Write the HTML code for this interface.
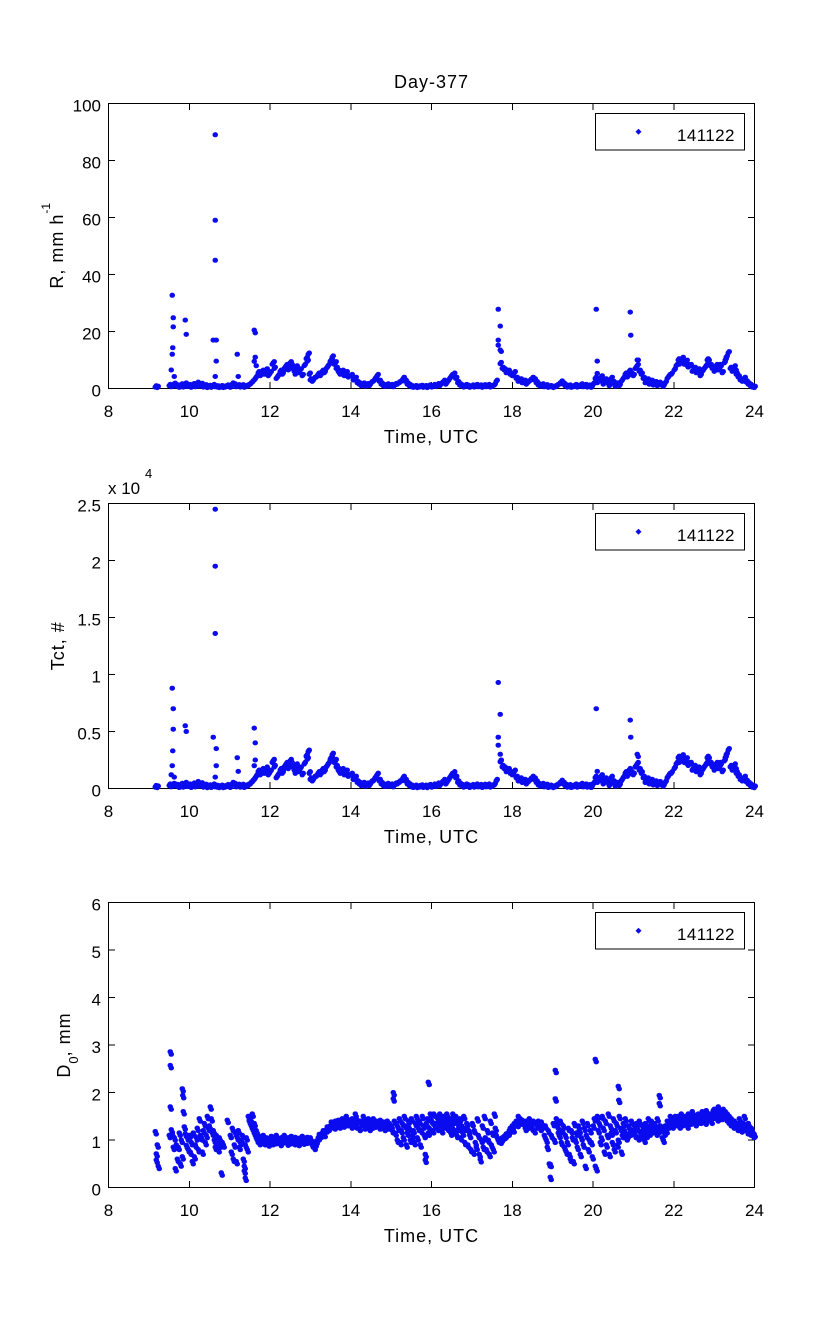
<!DOCTYPE html>
<html>
<head>
<meta charset="utf-8">
<style>
html,body{margin:0;padding:0;background:#fff;}
svg{display:block;}
text{font-family:"Liberation Sans",Arial,Helvetica,sans-serif;fill:#000;}
.tk{font-size:17px;}
.lb{font-size:18px;letter-spacing:1px;}
.pt{fill:none;stroke:#0b0bf0;stroke-width:5;stroke-linecap:round;stroke-linejoin:round;}
</style>
</head>
<body>
<svg width="833" height="1334" viewBox="0 0 833 1334" xmlns="http://www.w3.org/2000/svg">
<rect x="0" y="0" width="833" height="1334" fill="#fff"/>

<!-- frames with x ticks -->
<g id="frame" fill="none" stroke="#000" stroke-width="1" shape-rendering="crispEdges">
  <rect x="108.5" y="103.5" width="646" height="285"/>
  <path d="M189.25 388.5v-6.5M189.25 103.5v6.5M270 388.5v-6.5M270 103.5v6.5M350.75 388.5v-6.5M350.75 103.5v6.5M431.5 388.5v-6.5M431.5 103.5v6.5M512.25 388.5v-6.5M512.25 103.5v6.5M593 388.5v-6.5M593 103.5v6.5M673.75 388.5v-6.5M673.75 103.5v6.5"/>
</g>
<use href="#frame" x="0" y="400"/>
<use href="#frame" x="0" y="799"/>

<!-- y ticks -->
<g fill="none" stroke="#000" stroke-width="1" shape-rendering="crispEdges">
  <path d="M108.5 331.5h6.5M754.5 331.5h-6.5M108.5 274.5h6.5M754.5 274.5h-6.5M108.5 217.5h6.5M754.5 217.5h-6.5M108.5 160.5h6.5M754.5 160.5h-6.5"/>
  <path d="M108.5 731.5h6.5M754.5 731.5h-6.5M108.5 674.5h6.5M754.5 674.5h-6.5M108.5 617.5h6.5M754.5 617.5h-6.5M108.5 560.5h6.5M754.5 560.5h-6.5"/>
  <path d="M108.5 1140h6.5M754.5 1140h-6.5M108.5 1092.5h6.5M754.5 1092.5h-6.5M108.5 1045h6.5M754.5 1045h-6.5M108.5 997.5h6.5M754.5 997.5h-6.5M108.5 950h6.5M754.5 950h-6.5"/>
</g>

<!-- Panel 1 data (R) baseline -->
<g id="g1">
<path id="b1" class="pt" d="M155 387.1h.5M157 387.6h.5M169 385.7h.5M171 386.8h.5M173 385.1h.5M175 385.9h.5M177 386.2h.5M179 387.4h.5M181 385.1h.5M183 387.1h.5M185 384.2h.5M187 386.5h.5
M189 385.7h.5M191 387.4h.5M193 384.8h.5M195 386.8h.5M197 383.4h.5M199 386.2h.5M201 384.5h.5M203 387.1h.5M205 385.9h.5M207 387.6h.5M209 386.5h.5M211 387.4h.5M213 385.7h.5M215 386.8h.5M217 387.1h.5M219 387.6h.5M221 386.8h.5M223 387.6h.5M225 387.1h.5M227 386.2h.5
M230 387.4h.5M232 384.2h.5M234 385.1h.5M236 386.8h.5M238 385.9h.5M240 387.1h.5M242 385.9h.5M244 387.4h.5M246 386.5h.5M248 385.7h.5M250 384.2h.5M252 382.2h.5M254 380h.5M256 377.1h.5M258 372.8h.5M260 375.7h.5M262 371.4h.5M264 374.3h.5M266 370h.5M268 375.7h.5
M270 372.8h.5M272 364.3h.5M273 362.9h.5M274 368.5h.5M276 378.5h.5M278 375.7h.5M280 371.4h.5M282 374.3h.5M283 371.4h.5M284 368.5h.5M286 365.7h.5M288 370h.5M290 362.9h.5M291 365.7h.5M292 368.5h.5M294 371.4h.5M295 374.3h.5M296 367.1h.5M298 372.8h.5M300 370h.5M302 375.7h.5M304 365.7h.5M306 358.6h.5M307 361.4h.5M308 354.3h.5M309 374.3h.5
M310 380h.5M312 381.4h.5M314 378.5h.5M316 377.1h.5M318 374.3h.5M320 375.7h.5M322 371.4h.5M324 372.8h.5M326 368.5h.5M328 365.7h.5M330 361.4h.5M331 360h.5M332 357.2h.5M334 364.3h.5M335 362.9h.5M336 368.5h.5M338 371.4h.5M339 372.8h.5M340 374.3h.5M342 371.4h.5M344 375.7h.5M346 372.8h.5M348 377.1h.5
M351 375.7h.5M353 380h.5M355 378.5h.5M357 382.8h.5M359 384.2h.5M361 385.7h.5M363 384.2h.5M365 386.2h.5M367 384.8h.5M369 385.7h.5M371 382.8h.5M373 381.4h.5M375 378.5h.5M377 375.7h.5M379 381.4h.5M381 384.2h.5M383 385.7h.5M385 386.5h.5M387 385.1h.5M389 386.2h.5
M391 385.7h.5M393 386.8h.5M395 384.8h.5M397 384.2h.5M399 382.8h.5M401 381.4h.5M403 378.5h.5M405 381.4h.5M407 384.2h.5M409 385.7h.5M411 386.8h.5M413 387.4h.5M415 386.8h.5M417 387.6h.5M419 387.1h.5M421 386.5h.5M423 387.4h.5M425 386.8h.5M427 387.6h.5M429 386.2h.5
M431.5 387.1h.5M433.5 385.7h.5M435.5 386.5h.5M437.5 384.8h.5M439.5 385.7h.5M441.5 383.4h.5M443.5 381.4h.5M445.5 384.2h.5M447.5 381.4h.5M449.5 378.5h.5M451.5 375.7h.5M453.5 374.3h.5M455.5 378.5h.5M457.5 382.8h.5M459.5 385.1h.5M461.5 386.2h.5M463.5 387.1h.5M465.5 385.7h.5M467.5 386.5h.5M469.5 387.4h.5
M472 386.2h.5M474 387.1h.5M476 385.7h.5M478 386.8h.5M480 386.2h.5M482 387.4h.5M484 385.9h.5M486 386.8h.5M488 385.7h.5M490 387.1h.5M492 386.5h.5M494 385.1h.5M496 381.4h.5M500 363.7h.5M502 368.5h.5M504 370h.5M506 372.8h.5M508 371.4h.5M510 374.3h.5
M512 375.7h.5M514 372.8h.5M516 378.5h.5M518 381.4h.5M520 380h.5M522 382.8h.5M524 381.4h.5M526 384.2h.5M528 382.2h.5M530 380.5h.5M532 378.5h.5M534 380h.5M536 382.8h.5M538 385.1h.5M540 386.2h.5M542 385.1h.5M544 386.8h.5M546 385.9h.5M548 387.4h.5M550 386.8h.5
M553 387.6h.5M555 386.8h.5M557 385.7h.5M559 384.2h.5M561 382.2h.5M563 384.2h.5M565 385.9h.5M567 387.1h.5M569 386.2h.5M571 387.4h.5M573 386.8h.5M575 385.7h.5M577 387.1h.5M579 386.2h.5M581 385.1h.5M583 386.8h.5M585 385.7h.5M587 387.1h.5M589 386.2h.5M591 387.4h.5
M593 384.2h.5M595 378.5h.5M597 382.8h.5M599 381.4h.5M601 377.1h.5M603 384.2h.5M605 380h.5M607 382.8h.5M609 385.7h.5M611 378.5h.5M613 382.8h.5M615 386.2h.5M617 384.2h.5M619 385.7h.5M621 381.4h.5M623 378.5h.5M625 374.3h.5M627 377.1h.5M629 371.4h.5M631 374.3h.5
M633 375.7h.5M635 368.5h.5M637 365.7h.5M639 371.4h.5M641 374.3h.5M643 378.5h.5M645 382.8h.5M647 380h.5M649 384.2h.5M651 381.4h.5M653 385.1h.5M655 382.8h.5M657 385.7h.5M659 383.4h.5M661 385.1h.5M663 386.2h.5M665 382.8h.5M667 378.5h.5M669 375.7h.5M671 374.3h.5
M674 370h.5M676 365.7h.5M678 360h.5M679 364.3h.5M680 362.9h.5M682 358.6h.5M683 361.4h.5M684 364.3h.5M686 361.4h.5M687 365.7h.5M688 367.1h.5M690 365.7h.5M692 371.4h.5M694 368.5h.5M695 371.4h.5M696 372.8h.5M698 370h.5M700 375.7h.5M702 371.4h.5M704 368.5h.5M706 365.7h.5M707 360h.5M708 361.4h.5M710 365.7h.5M712 368.5h.5
M714 371.4h.5M716 365.7h.5M718 370h.5M719 365.7h.5M720 367.1h.5M722 372.8h.5M724 362.9h.5M725 360h.5M726 357.2h.5M728 352.9h.5M730 368.5h.5M732 371.4h.5M733 368.5h.5M734 367.1h.5M735 371.4h.5M736 374.3h.5M738 377.1h.5M740 380h.5M742 381.4h.5M744 378.5h.5M746 382.2h.5M748 384.2h.5M750 385.7h.5M752 387.1h.5M754 387.6h.5"/>
<use href="#b1" transform="translate(1,-1.3)"/>
</g>

<!-- Panel 1 outliers -->
<path class="pt" d="M171 370h.5M172 354.3h.5M172.5 347.7h.5M172 295.3h.5M173 317.8h.5M173 326.9h.5M174 376.5h.5M175 383.1h.5M185 320.1h.5M186 334.4h.5M213 340.1h.5M216 340.1h.5M215 134.8h.5M215 220.3h.5M215 260.3h.5M216 361.1h.5M215 376.5h.5M237 354.3h.5M238 376.5h.5M254 330.1h.5M255 332.9h.5M255 357.2h.5M254 361.4h.5M256 365.7h.5M498 309.3h.5M500 326.1h.5M498 340.1h.5M498 345.2h.5M500 350h.5M501 351.5h.5M596 309.3h.5M597 361.1h.5M597 373.4h.5M630 312.1h.5M630.5 335.2h.5M637 360h.5M638 360h.5"/>

<!-- Panel 2 baseline (reuse of R shape scaled) -->
<use href="#g1" transform="matrix(1,0,0,1.08,0,368.92)"/>
<!-- Panel 2 outliers -->
<path class="pt" d="M172 688.2h.5M173 708.7h.5M173 729.2h.5M172.5 750.9h.5M172 765.7h.5M171 774.8h.5M174 777.1h.5M185 725.8h.5M186 731.5h.5M213 737.2h.5M216 748.6h.5M215 509.2h.5M215 566.2h.5M215 633.5h.5M216 765.7h.5M215 777.1h.5M237 757.7h.5M238 771.4h.5M254 728.1h.5M255 742.9h.5M255 760h.5M254 765.7h.5M498 682.5h.5M500 714.4h.5M498 737.2h.5M498 745.2h.5M500 754.3h.5M501 760h.5M596 708.7h.5M597 771.4h.5M630 720.1h.5M630.5 737.2h.5M637 754.3h.5M638 756.6h.5"/>

<!-- Panel 3 data (D0) -->
<path id="d3" class="pt" d="M155 1131.5h.5M156 1153.8h.5M157 1144.8h.5M158 1166.1h.5M156 1160h.5M169 1135.3h.5M170 1051.7h.5M170 1065.4h.5M170 1106.8h.5M171 1129.6h.5M172 1133.8h.5M173 1147.1h.5M174 1137.6h.5M175 1168.5h.5M176 1144.8h.5M177 1159h.5M178 1147.1h.5M179 1132.9h.5M180 1163.8h.5M181 1140h.5M182 1156.6h.5M182 1088.7h.5M182.5 1095.4h.5M183 1111.5h.5M184 1126.7h.5M185 1133.8h.5M186 1145.2h.5M187 1137.6h.5M188 1149.5h.5
M189 1135.3h.5M190 1151.9h.5M191 1142.4h.5M192 1161.4h.5M193 1132.9h.5M194 1156.6h.5M195 1144.8h.5M196 1137.6h.5M197 1128.1h.5M198 1149.5h.5M199 1118.6h.5M200 1135.3h.5M201 1137.6h.5M202 1151.9h.5M203 1130.5h.5M204 1123.4h.5M205 1142.4h.5M206 1135.3h.5M207 1116.3h.5M208 1128.1h.5M209 1125.8h.5M210 1106.8h.5M211 1118.6h.5M212 1132.9h.5M213 1130.5h.5M214 1140h.5M215 1147.1h.5M216 1135.3h.5M217 1142.4h.5M218 1149.5h.5M219 1137.6h.5M220 1144.8h.5M221 1172.8h.5M222 1142.4h.5M223 1144.8h.5M227 1120.1h.5
M230 1135.3h.5M231 1151.9h.5M232 1128.1h.5M233 1159h.5M234 1144.8h.5M235 1132.9h.5M236 1161.4h.5M237 1137.6h.5M238 1130.5h.5M239 1147.1h.5M240 1142.4h.5M241 1140h.5M242 1135.3h.5M243 1159h.5M244 1166.1h.5M244 1170.9h.5M245 1144.8h.5M245 1178h.5M246 1137.6h.5M247 1149.5h.5M248 1116.3h.5M249 1121h.5M250 1118.6h.5M251 1125.8h.5M252 1113.9h.5M253 1130.5h.5M254 1123.4h.5M255 1135.3h.5M256 1130.5h.5M257 1140h.5M258 1135.3h.5M259 1142.4h.5M260 1137.6h.5M262 1140h.5M263 1135.3h.5M264 1142.4h.5M266 1137.6h.5M267 1141h.5M268 1143.8h.5
M270 1140h.5M271 1136.2h.5M272 1142.4h.5M274 1137.6h.5M275 1141.4h.5M276 1135.3h.5M278 1141h.5M279 1138.1h.5M280 1143.3h.5M282 1137.2h.5M283 1140.5h.5M284 1135.3h.5M286 1140h.5M287 1142.9h.5M288 1137.6h.5M290 1141.4h.5M291 1136.2h.5M292 1139.1h.5M294 1142.4h.5M295 1137.2h.5M296 1140h.5M298 1143.3h.5M299 1138.1h.5M300 1140h.5M302 1136.2h.5M303 1141.9h.5M304 1139.1h.5M306 1141h.5M307 1137.2h.5M308 1140h.5
M310 1137.6h.5M311 1142.4h.5M312 1144.8h.5M314 1147.1h.5M315 1143.8h.5M316 1141h.5M318 1137.6h.5M319 1134.3h.5M320 1135.3h.5M322 1132.9h.5M323 1130.5h.5M324 1134.3h.5M326 1129.6h.5M327 1126.7h.5M328 1128.1h.5M330 1125.8h.5M331 1121.9h.5M332 1124.3h.5M334 1126.7h.5M335 1121h.5M336 1123.4h.5M338 1120.1h.5M339 1125.8h.5M340 1121.9h.5M342 1118.6h.5M343 1124.8h.5M344 1121h.5M346 1116.3h.5M347 1123.4h.5M348 1120.1h.5
M351 1125.8h.5M352 1118.6h.5M353 1121.9h.5M355 1113.9h.5M356 1125.8h.5M357 1120.1h.5M359 1128.1h.5M360 1121h.5M361 1123.4h.5M363 1116.3h.5M364 1126.7h.5M365 1121h.5M367 1124.3h.5M368 1118.6h.5M369 1128.1h.5M371 1121.9h.5M372 1125.8h.5M373 1118.6h.5M375 1124.8h.5M376 1121h.5M377 1123.4h.5M379 1126.7h.5M380 1120.1h.5M381 1125.8h.5M383 1121.9h.5M384 1128.1h.5M385 1124.8h.5M387 1121h.5M388 1126.7h.5M389 1123.4h.5
M391 1125.8h.5M392 1130.5h.5M393 1092.5h.5M393 1098.7h.5M394 1121h.5M395 1132.9h.5M396 1123.4h.5M397 1140h.5M398 1128.1h.5M399 1118.6h.5M400 1142.4h.5M401 1130.5h.5M402 1123.4h.5M403 1137.6h.5M404 1116.3h.5M405 1125.8h.5M406 1144.8h.5M407 1132.9h.5M408 1121h.5M409 1128.1h.5M410 1140h.5M411 1118.6h.5M412 1135.3h.5M413 1130.5h.5M414 1142.4h.5M415 1123.4h.5M416 1116.3h.5M417 1137.6h.5M418 1128.1h.5M419 1121h.5M420 1144.8h.5M421 1130.5h.5M422 1116.3h.5M423 1125.8h.5M424 1135.3h.5M425 1154.3h.5M425 1160h.5M426 1123.4h.5M427 1118.6h.5M428 1132.9h.5M428 1082.1h.5M429 1128.1h.5M430 1113.9h.5
M431.5 1121h.5M432.5 1130.5h.5M433.5 1113.9h.5M434.5 1125.8h.5M435.5 1123.4h.5M436.5 1116.3h.5M437.5 1128.1h.5M438.5 1118.6h.5M439.5 1113.9h.5M440.5 1123.4h.5M441.5 1130.5h.5M442.5 1121h.5M443.5 1116.3h.5M444.5 1125.8h.5M445.5 1121h.5M446.5 1113.9h.5M447.5 1128.1h.5M448.5 1123.4h.5M449.5 1118.6h.5M450.5 1132.9h.5M451.5 1125.8h.5M452.5 1113.9h.5M453.5 1121h.5M454.5 1130.5h.5M455.5 1116.3h.5M456.5 1135.3h.5M457.5 1123.4h.5M458.5 1128.1h.5M459.5 1118.6h.5M460.5 1137.6h.5M461.5 1125.8h.5M462.5 1132.9h.5M463.5 1116.3h.5M464.5 1142.4h.5M465.5 1128.1h.5M466.5 1123.4h.5M467.5 1144.8h.5M468.5 1130.5h.5M469.5 1135.3h.5M470.5 1149.5h.5
M472 1123.4h.5M473 1151.9h.5M474 1130.5h.5M475 1142.4h.5M476 1147.1h.5M477 1118.6h.5M478 1135.3h.5M479 1154.3h.5M480 1159.5h.5M481 1140h.5M482 1125.8h.5M483 1147.1h.5M484 1116.3h.5M485 1137.6h.5M486 1149.5h.5M487 1130.5h.5M488 1140h.5M489 1154.3h.5M490 1121h.5M491 1144.8h.5M492 1132.9h.5M493 1149.5h.5M494 1113.9h.5M495 1128.1h.5M496 1135.3h.5M497 1137.6h.5M498 1140h.5M500 1141h.5M501 1139.1h.5M502 1137.6h.5M504 1136.2h.5M505 1135.3h.5M506 1133.8h.5M508 1132.9h.5M509 1130.5h.5M510 1128.1h.5
M512 1125.8h.5M513 1129.6h.5M514 1123.4h.5M516 1121h.5M517 1124.3h.5M518 1116.3h.5M520 1118.6h.5M521 1121.9h.5M522 1120.1h.5M524 1123.4h.5M525 1128.1h.5M526 1121h.5M528 1125.8h.5M529 1118.6h.5M530 1123.4h.5M532 1128.1h.5M533 1121h.5M534 1130.5h.5M536 1123.4h.5M537 1125.8h.5M538 1121h.5M540 1128.1h.5M541 1121.9h.5M542 1125.8h.5M544 1135.3h.5M545 1125.8h.5M546 1140h.5M547 1147.1h.5M548 1130.5h.5M549 1163.8h.5M550 1177.1h.5M550 1164.2h.5M551 1135.3h.5
M553 1123.4h.5M554 1140h.5M555 1070.2h.5M555 1098.7h.5M556 1118.6h.5M557 1125.8h.5M558 1132.9h.5M559 1135.3h.5M560 1121h.5M561 1142.4h.5M562 1130.5h.5M563 1125.8h.5M564 1147.1h.5M565 1135.3h.5M566 1151.9h.5M567 1142.4h.5M568 1128.1h.5M569 1154.3h.5M570 1159h.5M571 1130.5h.5M572 1137.6h.5M573 1161.4h.5M574 1123.4h.5M575 1140h.5M576 1132.9h.5M577 1147.1h.5M578 1125.8h.5M579 1130.5h.5M580 1154.3h.5M581 1137.6h.5M582 1121h.5M583 1144.8h.5M584 1128.1h.5M585 1166.1h.5M586 1135.3h.5M587 1123.4h.5M588 1149.5h.5M589 1140h.5M590 1130.5h.5M591 1142.4h.5M592 1156.6h.5
M593 1125.8h.5M594 1118.6h.5M595 1059.3h.5M595 1166.1h.5M596 1168.5h.5M597 1116.3h.5M598 1130.5h.5M599 1123.4h.5M600 1142.4h.5M601 1137.6h.5M602 1116.3h.5M603 1128.1h.5M604 1151.9h.5M605 1121h.5M606 1144.8h.5M607 1135.3h.5M608 1113.9h.5M609 1154.3h.5M610 1125.8h.5M611 1132.9h.5M612 1142.4h.5M613 1118.6h.5M614 1149.5h.5M615 1130.5h.5M616 1123.4h.5M617 1144.8h.5M618 1140h.5M618 1086.3h.5M618.5 1100.1h.5M619 1116.3h.5M620 1128.1h.5M621 1151.9h.5M622 1135.3h.5M623 1123.4h.5M624 1130.5h.5M625 1118.6h.5M626 1137.6h.5M627 1135.3h.5M628 1125.8h.5M629 1128.1h.5M630 1132.9h.5M631 1121h.5M632 1130.5h.5
M633 1130.5h.5M634 1125.8h.5M635 1135.3h.5M636 1123.4h.5M637 1128.1h.5M638 1137.6h.5M639 1121h.5M640 1132.9h.5M641 1135.3h.5M642 1125.8h.5M643 1130.5h.5M644 1140h.5M645 1123.4h.5M646 1135.3h.5M647 1128.1h.5M648 1118.6h.5M649 1132.9h.5M650 1125.8h.5M651 1121h.5M652 1130.5h.5M653 1128.1h.5M654 1123.4h.5M655 1125.8h.5M656 1132.9h.5M657 1118.6h.5M658 1130.5h.5M659 1095.4h.5M659 1103.4h.5M660 1125.8h.5M661 1128.1h.5M662 1137.6h.5M663 1140h.5M664 1132.9h.5M665 1125.8h.5M666 1130.5h.5M667 1121h.5M668 1125.8h.5M669 1123.4h.5M670 1116.3h.5M671 1118.6h.5M672 1125.8h.5
M674 1121h.5M675 1116.3h.5M676 1123.4h.5M677 1118.6h.5M678 1116.3h.5M679 1125.8h.5M680 1120.1h.5M681 1113.9h.5M682 1123.4h.5M683 1118.6h.5M684 1116.3h.5M685 1121.9h.5M686 1118.6h.5M687 1125.8h.5M688 1113.9h.5M689 1121h.5M690 1121.9h.5M691 1117.2h.5M692 1111.5h.5M693 1120.1h.5M694 1118.6h.5M695 1123.4h.5M696 1116.3h.5M697 1121h.5M698 1113.9h.5M699 1118.6h.5M700 1121h.5M701 1116.3h.5M702 1111.5h.5M703 1118.6h.5M704 1116.3h.5M705 1121.9h.5M706 1110.5h.5M707 1117.2h.5M708 1118.6h.5M709 1113.9h.5M710 1113.9h.5M711 1121h.5M712 1116.3h.5M713 1110.5h.5
M714 1109.1h.5M715 1116.3h.5M716 1113.9h.5M717 1118.6h.5M718 1106.8h.5M719 1112.5h.5M720 1111.5h.5M721 1117.2h.5M722 1113.9h.5M723 1109.1h.5M724 1116.3h.5M725 1111.5h.5M726 1118.6h.5M727 1113.9h.5M728 1121h.5M729 1116.3h.5M730 1123.4h.5M731 1118.6h.5M732 1120.1h.5M733 1125.8h.5M734 1121h.5M735 1124.8h.5M736 1123.4h.5M737 1128.1h.5M738 1125.8h.5M739 1118.6h.5M740 1121.9h.5M741 1129.6h.5M742 1128.1h.5M743 1123.4h.5M744 1116.3h.5M745 1125.8h.5M746 1126.7h.5M747 1131.5h.5M748 1123.4h.5M749 1130.5h.5M750 1132.9h.5M751 1128.1h.5M752 1130.5h.5M753 1135.3h.5M754 1134.3h.5"/>
<use href="#d3" transform="translate(1,2.6)"/>

<!-- Title -->
<text class="lb" x="431.5" y="88" text-anchor="middle">Day-377</text>

<!-- Panel 1 tick labels -->
<g class="tk" text-anchor="middle">
  <text x="108.5" y="417">8</text>
  <text x="189.25" y="417">10</text>
  <text x="270" y="417">12</text>
  <text x="350.75" y="417">14</text>
  <text x="431.5" y="417">16</text>
  <text x="512.25" y="417">18</text>
  <text x="593" y="417">20</text>
  <text x="673.75" y="417">22</text>
  <text x="754.5" y="417">24</text>
</g>
<g class="tk" text-anchor="end">
  <text x="101" y="396.7">0</text>
  <text x="101" y="339.7">20</text>
  <text x="101" y="282.7">40</text>
  <text x="101" y="225.7">60</text>
  <text x="101" y="168.7">80</text>
  <text x="101" y="111.7">100</text>
</g>
<text class="lb" x="431.5" y="443" text-anchor="middle">Time, UTC</text>
<text class="lb" transform="translate(63,245.8) rotate(-90)" text-anchor="middle">R, mm h<tspan dy="-13" font-size="12" letter-spacing="0">-1</tspan></text>

<!-- Panel 2 tick labels -->
<g class="tk" text-anchor="middle">
  <text x="108.5" y="817">8</text>
  <text x="189.25" y="817">10</text>
  <text x="270" y="817">12</text>
  <text x="350.75" y="817">14</text>
  <text x="431.5" y="817">16</text>
  <text x="512.25" y="817">18</text>
  <text x="593" y="817">20</text>
  <text x="673.75" y="817">22</text>
  <text x="754.5" y="817">24</text>
</g>
<g class="tk" text-anchor="end">
  <text x="101" y="796.7">0</text>
  <text x="101" y="739.7">0.5</text>
  <text x="101" y="682.7">1</text>
  <text x="101" y="625.7">1.5</text>
  <text x="101" y="568.7">2</text>
  <text x="101" y="511.7">2.5</text>
</g>
<text class="tk" x="108" y="494">x 10</text>
<text x="145" y="478" font-size="13">4</text>
<text class="lb" x="431.5" y="843" text-anchor="middle">Time, UTC</text>
<text class="lb" transform="translate(64,645.8) rotate(-90)" text-anchor="middle">Tct, #</text>

<!-- Panel 3 tick labels -->
<g class="tk" text-anchor="middle">
  <text x="108.5" y="1216">8</text>
  <text x="189.25" y="1216">10</text>
  <text x="270" y="1216">12</text>
  <text x="350.75" y="1216">14</text>
  <text x="431.5" y="1216">16</text>
  <text x="512.25" y="1216">18</text>
  <text x="593" y="1216">20</text>
  <text x="673.75" y="1216">22</text>
  <text x="754.5" y="1216">24</text>
</g>
<g class="tk" text-anchor="end">
  <text x="101" y="1195.7">0</text>
  <text x="101" y="1148.2">1</text>
  <text x="101" y="1100.7">2</text>
  <text x="101" y="1053.2">3</text>
  <text x="101" y="1005.7">4</text>
  <text x="101" y="958.2">5</text>
  <text x="101" y="910.7">6</text>
</g>
<text class="lb" x="431.5" y="1242" text-anchor="middle">Time, UTC</text>
<text class="lb" transform="translate(70,1045) rotate(-90)" text-anchor="middle">D<tspan dy="8" font-size="13" letter-spacing="0">0</tspan><tspan dy="-8">, mm</tspan></text>

<!-- Legends -->
<g fill="#fff" stroke="#000" stroke-width="1" shape-rendering="crispEdges">
  <rect x="595.5" y="113.5" width="149" height="36.5"/>
  <rect x="595.5" y="513.5" width="149" height="36.5"/>
  <rect x="595.5" y="912.5" width="149" height="36.5"/>
</g>
<g fill="#0b0bf0">
  <path d="M638.5 128.7l3 3l-3 3l-3-3z"/>
  <path d="M638.5 528.7l3 3l-3 3l-3-3z"/>
  <path d="M638.5 927.7l3 3l-3 3l-3-3z"/>
</g>
<g class="tk" letter-spacing="0.4">
  <text x="677" y="141">141122</text>
  <text x="677" y="541">141122</text>
  <text x="677" y="940">141122</text>
</g>
</svg>
</body>
</html>
